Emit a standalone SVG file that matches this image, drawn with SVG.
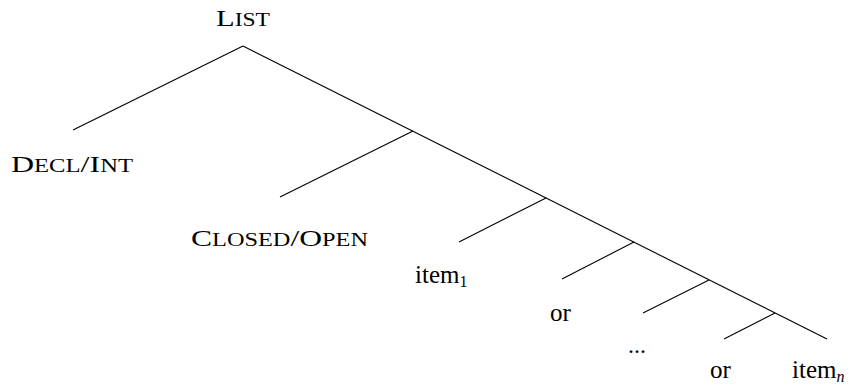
<svg xmlns="http://www.w3.org/2000/svg" width="857" height="386" viewBox="0 0 857 386">
  <style>
    .edge { stroke: #000; stroke-width: 1.1; fill: none; stroke-linecap: butt; }
    .lbl { font-family: "Liberation Serif", "DejaVu Serif", serif; font-size: 24px; fill: #000; }
    .word { font-size: 25px; }
    .sc { font-size: 18.5px; }
    .sub { font-size: 16px; }
  </style>
  <rect width="857" height="386" fill="#fff"/>

  <!-- tree branches -->
  <g id="connectors">
    <path class="edge" d="M243,46 L73,130"/>
    <path class="edge" d="M243,46 L827,339"/>
    <path class="edge" d="M413,131 L280,197"/>
    <path class="edge" d="M546,198 L459,242"/>
    <path class="edge" d="M634,242 L562,279"/>
    <path class="edge" d="M709,280 L643,313"/>
    <path class="edge" d="M775,313 L724,339"/>
  </g>

  <g id="node-list">
    <text class="lbl" x="216" y="26" textLength="54" lengthAdjust="spacingAndGlyphs">L<tspan class="sc">IST</tspan></text>
  </g>
  <g id="node-decl-int">
    <text class="lbl" x="11" y="172" textLength="122" lengthAdjust="spacingAndGlyphs">D<tspan class="sc">ECL</tspan>/I<tspan class="sc">NT</tspan></text>
  </g>
  <g id="node-closed-open">
    <text class="lbl" x="191" y="246" textLength="177" lengthAdjust="spacingAndGlyphs">C<tspan class="sc">LOSED</tspan>/O<tspan class="sc">PEN</tspan></text>
  </g>
  <g id="node-item1">
    <text class="lbl word" x="415" y="283">item<tspan class="sub" dy="4">1</tspan></text>
  </g>
  <g id="node-or1">
    <text class="lbl word" x="550" y="321">or</text>
  </g>
  <g id="node-dots">
    <text class="lbl" x="628" y="353">...</text>
  </g>
  <g id="node-or2">
    <text class="lbl word" x="710" y="378">or</text>
  </g>
  <g id="node-itemn">
    <text class="lbl word" x="792" y="378">item<tspan class="sub" dy="4" font-style="italic">n</tspan></text>
  </g>
</svg>
